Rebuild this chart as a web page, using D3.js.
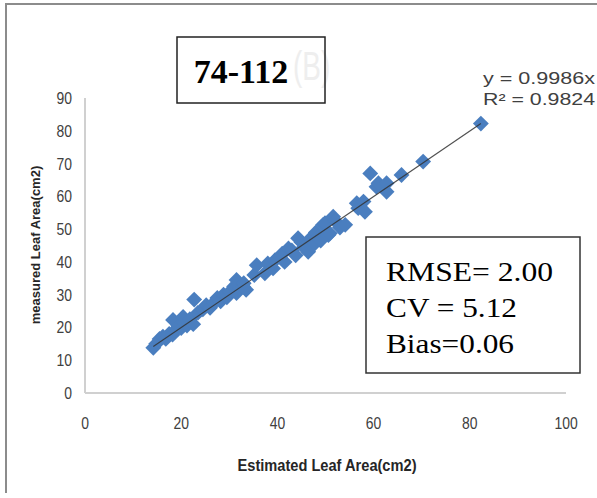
<!DOCTYPE html>
<html>
<head>
<meta charset="utf-8">
<script src="https://cdn.jsdelivr.net/npm/d3@7"></script>
<style>
  body { margin: 0; background: #fff; }
  svg { display: block; }
</style>
</head>
<body>
<svg id="chart" width="597" height="498"></svg>
<script>
// estimated leaf area (x) vs measured leaf area (y)
var estimated = [14.2, 14.8, 15.5, 16.2, 16.8, 17.5, 18.2, 18.3, 18.8, 19.4, 20.0, 20.4, 20.6, 21.2, 21.8, 22.5, 22.7,
    23.5, 24.5, 25.2, 26.0, 26.8, 27.5, 28.2, 28.8, 29.5, 30.2, 31.0, 31.5, 31.5, 32.2, 32.9, 33.0, 33.5,
    35.2, 35.7, 37.4, 38.0, 39.1, 39.5, 40.5, 41.0, 41.5, 42.3, 43.0, 43.8, 44.3, 45.0, 45.5, 46.4, 46.8, 47.2, 47.8,
    48.0, 48.5, 49.0, 49.5, 49.9, 50.6, 50.9, 51.6, 52.0, 53.0, 54.1, 56.5, 56.8, 57.9, 58.2,
    59.3, 60.6, 61.0, 62.7, 62.7, 65.8, 70.3, 82.3];
var measured = [13.8, 15.0, 16.5, 17.2, 16.5, 18.0, 17.8, 22.3, 19.2, 20.5, 19.8, 23.2, 21.5, 20.6, 22.5, 21.0, 28.5,
    24.5, 25.5, 26.8, 26.0, 27.5, 29.0, 28.0, 30.0, 29.2, 31.0, 32.5, 30.5, 34.5, 32.0, 32.4, 33.5, 31.5,
    36.0, 39.0, 36.5, 39.5, 38.0, 40.5, 41.6, 42.5, 40.0, 44.1, 43.5, 42.0, 47.2, 46.0, 44.5, 43.1, 47.0, 45.0, 45.7,
    49.0, 47.5, 46.5, 51.3, 51.8, 48.2, 48.7, 53.8, 52.5, 50.5, 51.3, 57.9, 56.4, 58.4, 55.3,
    67.0, 62.9, 64.0, 64.0, 61.4, 66.5, 70.6, 82.2];
var xTicks = [0, 20, 40, 60, 80, 100];
var yTicks = [0, 10, 20, 30, 40, 50, 60, 70, 80, 90];
var slope = 0.9986;
var eqLines = ["y = 0.9986x", "R\u00b2 = 0.9824"];
var statLines = ["RMSE= 2.00", "CV = 5.12", "Bias=0.06"];
var statWidths = [167, 131, 128];
var panelTag = "74-112";

var points = estimated.map(function (d, i) { return { x: d, y: measured[i] }; });

var svg = d3.select("#chart");
var sans = "'Liberation Sans', Arial, sans-serif";
var serif = "'Liberation Serif', 'Times New Roman', serif";
var squeeze = 0.82; // fakes the narrow Calibri look

// frame (only top and left edges show)
svg.append("path")
    .attr("d", "M6,493V4H597")
    .attr("fill", "none")
    .attr("stroke", "#8c8c8c")
    .attr("stroke-width", 2);

var x = d3.scaleLinear().domain([0, 100]).range([85, 566]);
var y = d3.scaleLinear().domain([0, 90]).range([393, 98]);

// axis lines
svg.append("line")
    .attr("x1", x(0)).attr("x2", x(100))
    .attr("y1", y(0)).attr("y2", y(0))
    .attr("stroke", "#d0d0d0").attr("stroke-width", 2);
svg.append("line")
    .attr("x1", x(0)).attr("x2", x(0))
    .attr("y1", y(0)).attr("y2", y(90))
    .attr("stroke", "#d0d0d0").attr("stroke-width", 2);

// tick labels
svg.selectAll(".xt").data(xTicks).enter().append("text")
    .attr("transform", function (d) { return "translate(" + x(d) + ",429) scale(" + squeeze + ",1)"; })
    .attr("text-anchor", "middle")
    .attr("font-family", sans)
    .attr("font-size", 17)
    .attr("fill", "#404040")
    .text(function (d) { return d; });

svg.selectAll(".yt").data(yTicks).enter().append("text")
    .attr("transform", function (d) { return "translate(72," + (y(d) + 6) + ") scale(" + squeeze + ",1)"; })
    .attr("text-anchor", "end")
    .attr("font-family", sans)
    .attr("font-size", 17)
    .attr("fill", "#404040")
    .text(function (d) { return d; });

// axis titles
svg.append("text")
    .attr("x", 327).attr("y", 471)
    .attr("text-anchor", "middle")
    .attr("font-family", sans)
    .attr("font-weight", "bold")
    .attr("font-size", 16)
    .attr("textLength", 179)
    .attr("lengthAdjust", "spacingAndGlyphs")
    .attr("fill", "#262626")
    .text("Estimated Leaf Area(cm2)");

svg.append("text")
    .attr("transform", "translate(40,245) rotate(-90)")
    .attr("text-anchor", "middle")
    .attr("font-family", sans)
    .attr("font-weight", "bold")
    .attr("font-size", 13)
    .attr("fill", "#262626")
    .text("measured Leaf Area(cm2)");

// points
var diamond = d3.symbol().type(d3.symbolDiamond2).size(160);
svg.selectAll(".pt").data(points).enter().append("path")
    .attr("d", diamond)
    .attr("transform", function (d) { return "translate(" + x(d.x) + "," + y(d.y) + ")"; })
    .attr("fill", "#4a7ebf");

// trend line
var xExt = d3.extent(estimated);
svg.append("line")
    .attr("x1", x(xExt[0])).attr("y1", y(slope * xExt[0]))
    .attr("x2", x(xExt[1])).attr("y2", y(slope * xExt[1]))
    .attr("stroke", "#333").attr("stroke-width", 1.2).attr("opacity", 0.85);

// equation
svg.selectAll(".eq").data(eqLines).enter().append("text")
    .attr("x", 483)
    .attr("y", function (d, i) { return 84 + i * 21; })
    .attr("font-family", sans)
    .attr("font-size", 16)
    .attr("textLength", 112)
    .attr("lengthAdjust", "spacingAndGlyphs")
    .attr("fill", "#404040")
    .text(function (d) { return d; });

// faded panel letter
svg.append("text")
    .attr("transform", "translate(293,80) scale(0.7,1)")
    .attr("font-family", sans)
    .attr("font-size", 40)
    .attr("fill", "#eeeeee")
    .text("(B)");

// tag box
svg.append("rect")
    .attr("x", 177).attr("y", 37).attr("width", 148).attr("height", 66)
    .attr("fill", "none").attr("stroke", "#222").attr("stroke-width", 1.5);
svg.append("text")
    .attr("x", 241).attr("y", 83)
    .attr("text-anchor", "middle")
    .attr("font-family", serif)
    .attr("font-weight", "bold")
    .attr("font-size", 34)
    .attr("fill", "#000")
    .text(panelTag);

// stats box
svg.append("rect")
    .attr("x", 366).attr("y", 237).attr("width", 214).attr("height", 136)
    .attr("fill", "#fff").attr("stroke", "#333").attr("stroke-width", 1.5);
svg.selectAll(".st").data(statLines).enter().append("text")
    .attr("x", 386)
    .attr("y", function (d, i) { return 281 + i * 36; })
    .attr("font-family", serif)
    .attr("font-size", 27)
    .attr("textLength", function (d, i) { return statWidths[i]; })
    .attr("lengthAdjust", "spacingAndGlyphs")
    .attr("fill", "#000")
    .text(function (d) { return d; });
</script>
</body>
</html>
